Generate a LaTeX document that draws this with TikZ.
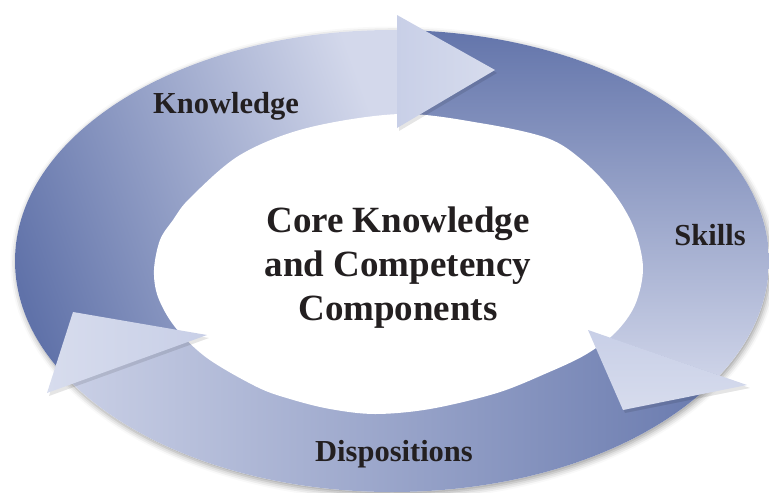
\documentclass[tikz,border=0pt]{standalone}
\usepackage{fontspec}
\setmainfont{Liberation Serif}
\usetikzlibrary{shadows.blur}
\definecolor{ringdark}{HTML}{6072A9}
\definecolor{ringlight}{HTML}{D3D8EB}
\definecolor{headA}{HTML}{C8CFE7}
\definecolor{headB}{HTML}{D7DCED}
\definecolor{txt}{HTML}{231F20}
\begin{document}
\begin{tikzpicture}[x=1pt,y=-1pt,
  lbl/.style={font=\fontsize{30.5}{36}\selectfont\bfseries, text=txt, anchor=base, inner sep=0pt},
  ctr/.style={font=\fontsize{37}{44}\selectfont\bfseries, text=txt, align=center, inner sep=0pt, anchor=base},
  ringshadow/.style={blur shadow={shadow xshift=1.5pt, shadow yshift=-2.5pt, shadow blur radius=6pt, shadow opacity=40}},
  headshade/.style={fill=black, opacity=0.10}]
\useasboundingbox (0,0) rectangle (769,493);
% ring with soft shadow
\fill[white, ringshadow] (392,261) ellipse [x radius=377pt, y radius=231pt];
\begin{scope}
  \clip (392,261) ellipse [x radius=377pt, y radius=231pt];
  % Knowledge body
  \shade[left color=ringdark, right color=ringlight, shading angle=110]
    (398,265) -- (5,407) -- (5,25) -- (397,25) -- cycle;
  % Skills body
  \shade[top color=ringdark, bottom color=ringlight]
    (398,265) -- (397,20) -- (775,20) -- (775,395) -- cycle;
  % Dispositions body
  \shade[left color=ringlight, right color=ringdark]
    (398,265) -- (775,395) -- (775,500) -- (5,500) -- (5,407) -- cycle;
\end{scope}
% inner white area
\fill[white] plot[smooth cycle, tension=0.55] coordinates {
  (400,114) (480,123) (547,138) (582,160) (613,192) (634,228) (643,268)
  (635,305) (615,333) (585,355) (547,373) (497,393) (430,409) (375,414)
  (330,409) (290,399) (257,387) (207,358) (175,327) (158,297) (154,270)
  (160,240) (173,220) (190,198) (240,155) (307,128)};
% arrow head shadows (simple offset)
\path[headshade] (399,18) -- (497,73) -- (399,131) -- cycle;
\path[headshade] (590,333) -- (750,388) -- (625,413) -- cycle;
\path[headshade] (209,338) -- (49,396) -- (75,315) -- cycle;
% arrow heads
\shade[left color=headA, right color=headB]
  (397,15) -- (495,70) -- (397,128) -- cycle;
\shade[top color=headA, bottom color=headB]
  (588,330) -- (747,385) -- (623,410) -- cycle;
\shade[left color=headB, right color=headA]
  (207,335) -- (47,393) -- (73,312) -- cycle;
% labels
\node[lbl] (know) at (226,113) {Knowledge};
\node[lbl] (skills) at (710,245) {Skills};
\node[lbl] (disp) at (394,461) {Dispositions};
\node[ctr] (core) at (398,320) {Core Knowledge\\and Competency\\Components};
\end{tikzpicture}
\end{document}
